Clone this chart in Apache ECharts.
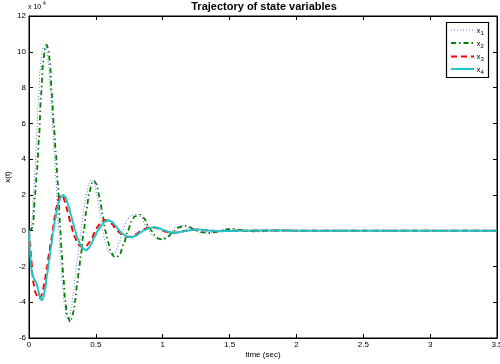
<!DOCTYPE html>
<html>
<head>
<meta charset="utf-8">
<script src="https://cdn.jsdelivr.net/npm/echarts@6/dist/echarts.min.js"></script>
<style>html,body{margin:0;padding:0;background:#fff}#c{width:500px;height:364px}</style>
</head>
<body>
<div id="c"></div>
<script>
// values in units of 10^4
var xTicks = [0, 0.5, 1, 1.5, 2, 2.5, 3, 3.5];
var yTicks = [-6, -4, -2, 0, 2, 4, 6, 8, 10, 12];
var seriesNames = ['x1', 'x2', 'x3', 'x4'];

var t1 = [0,0.015,0.025,0.035,0.045,0.055,0.07,0.082,0.095,0.108,0.12,0.133,0.144,0.16,0.175,0.189,0.2,0.21,0.22,0.235,0.25,0.265,0.28,0.29,0.305,0.318,0.33,0.345,0.36,0.375,0.39,0.41,0.43,0.45,0.47,0.49,0.51,0.53,0.55,0.57,0.595,0.62,0.645,0.675,0.7,0.73,0.76,0.81,0.845,0.87,0.895,0.925,0.955,0.985,1.02,1.05,1.07,1.1,1.145,1.18,1.215,1.24,1.285,1.335,1.38,1.42,1.47,1.51,1.56,1.6,1.68,1.78,1.9,2.0,2.5,3.0,3.5];
var x1 = [0,0.1,0.8,2.2,3.4,5.0,7.2,8.9,9.9,10.35,10.45,10.1,9.4,7.8,6.0,4.4,3.0,1.6,0.2,-1.5,-3.0,-4.2,-4.9,-5.0,-4.8,-4.3,-3.6,-2.6,-1.7,-0.8,0,1.2,2.1,2.65,2.85,2.6,1.9,1.0,0,-0.65,-1.2,-1.4,-1.25,-0.65,0,0.55,0.85,0.95,0.7,0.3,0,-0.3,-0.48,-0.5,-0.35,-0.12,0,0.18,0.3,0.22,0.08,0,-0.1,-0.14,-0.08,0,0.08,0.1,0.04,0,-0.04,0,0.02,0,0,0,0];

var t2 = [0,0.02,0.03,0.045,0.06,0.075,0.09,0.105,0.12,0.132,0.145,0.157,0.17,0.185,0.2,0.215,0.235,0.245,0.258,0.27,0.285,0.307,0.32,0.333,0.344,0.36,0.375,0.387,0.41,0.43,0.45,0.47,0.486,0.505,0.53,0.55,0.57,0.59,0.61,0.635,0.655,0.68,0.71,0.74,0.765,0.79,0.83,0.86,0.89,0.915,0.94,0.97,1.0,1.035,1.065,1.09,1.12,1.165,1.2,1.235,1.26,1.3,1.355,1.4,1.44,1.49,1.53,1.58,1.62,1.7,1.8,1.9,2.0,2.5,3.0,3.5];
var x2 = [0,0.1,0.3,2.0,3.4,5.2,7.6,9.4,10.2,10.4,10.1,9.4,7.7,6.0,4.4,2.7,0,-1.3,-2.7,-3.9,-4.7,-5.1,-4.9,-4.5,-3.95,-3.0,-2.1,-1.4,0,1.2,2.1,2.65,2.8,2.6,1.8,0.9,0,-0.6,-1.15,-1.45,-1.5,-1.3,-0.7,0,0.5,0.8,0.9,0.7,0.3,0,-0.25,-0.45,-0.5,-0.38,-0.15,0,0.18,0.28,0.2,0.07,0,-0.1,-0.13,-0.07,0,0.08,0.1,0.04,0,-0.04,0,0.02,0,0,0,0];

var t3 = [0,0.008,0.015,0.025,0.035,0.05,0.065,0.077,0.09,0.105,0.12,0.135,0.15,0.165,0.178,0.19,0.205,0.22,0.238,0.255,0.27,0.29,0.31,0.33,0.345,0.36,0.38,0.405,0.425,0.445,0.47,0.495,0.515,0.54,0.57,0.595,0.62,0.65,0.675,0.705,0.74,0.77,0.8,0.83,0.86,0.89,0.92,0.955,0.99,1.02,1.06,1.09,1.13,1.17,1.22,1.26,1.31,1.36,1.42,1.5,1.6,1.8,2.0,2.5,3.0,3.5];
var x3 = [0,-0.7,-1.4,-2.4,-3.0,-3.5,-3.75,-3.8,-3.7,-3.3,-2.7,-2.0,-1.3,-0.6,0.05,0.7,1.3,1.75,2.0,1.9,1.6,1.05,0.45,-0.05,-0.4,-0.65,-0.85,-0.95,-0.9,-0.72,-0.4,-0.05,0.25,0.5,0.6,0.55,0.38,0.1,-0.1,-0.27,-0.35,-0.32,-0.2,-0.05,0.08,0.17,0.2,0.15,0.04,-0.05,-0.11,-0.12,-0.07,0,0.05,0.06,0.03,0,-0.03,-0.02,0,0.01,0,0,0,0];

var t4 = [0,0.006,0.015,0.025,0.035,0.045,0.057,0.068,0.08,0.095,0.108,0.12,0.135,0.15,0.165,0.18,0.195,0.21,0.225,0.24,0.257,0.275,0.295,0.315,0.33,0.345,0.365,0.385,0.405,0.426,0.445,0.465,0.49,0.515,0.54,0.565,0.593,0.62,0.645,0.67,0.695,0.73,0.768,0.8,0.83,0.86,0.9,0.94,0.975,1.01,1.05,1.09,1.13,1.18,1.23,1.27,1.32,1.37,1.43,1.5,1.6,1.8,2.0,2.5,3.0,3.5];
var x4 = [0,-1.0,-2.0,-2.5,-2.65,-2.8,-2.95,-3.3,-3.7,-3.9,-3.75,-3.3,-2.5,-1.7,-0.9,-0.1,0.6,1.2,1.65,1.9,2.0,1.85,1.4,0.85,0.4,0,-0.45,-0.8,-1.0,-1.1,-1.0,-0.75,-0.35,0,0.3,0.5,0.58,0.5,0.3,0.05,-0.15,-0.32,-0.37,-0.28,-0.12,0.02,0.15,0.19,0.13,0.02,-0.08,-0.12,-0.08,0,0.05,0.06,0.03,0,-0.03,-0.02,0,0.01,0,0,0,0];

function pairs(t, v) { return t.map(function (tt, i) { return [tt, v[i]]; }); }

var FONT = 'Liberation Sans, Arial, Helvetica, sans-serif';
var chart = echarts.init(document.getElementById('c'), null, {renderer: 'canvas'});

function baseX(pos, showLabel) {
  return {
    type: 'value', position: pos, min: xTicks[0], max: xTicks[xTicks.length - 1],
    interval: 0.5,
    axisLine: {show: true, onZero: false, lineStyle: {color: '#000', width: 1}},
    axisTick: {show: true, inside: true, length: 4, lineStyle: {color: '#000', width: 1}},
    axisLabel: {show: showLabel, color: '#000', fontSize: 8, fontFamily: FONT, margin: 3,
      showMinLabel: true, showMaxLabel: true, hideOverlap: false},
    splitLine: {show: false}
  };
}
function baseY(pos, showLabel) {
  return {
    type: 'value', position: pos, min: yTicks[0], max: yTicks[yTicks.length - 1],
    interval: 2,
    axisLine: {show: true, onZero: false, lineStyle: {color: '#000', width: 1}},
    axisTick: {show: true, inside: true, length: 4, lineStyle: {color: '#000', width: 1}},
    axisLabel: {show: showLabel, color: '#000', fontSize: 8, fontFamily: FONT, margin: 3},
    splitLine: {show: false}
  };
}

var xb = baseX('bottom', true);
xb.name = 'time (sec)'; xb.nameLocation = 'middle'; xb.nameGap = 13; xb.nameMoveOverlap = false;
xb.nameTextStyle = {color: '#000', fontSize: 8, fontFamily: FONT};
var xt = baseX('top', false);
var yl = baseY('left', true);
yl.name = 'x(t)'; yl.nameLocation = 'middle'; yl.nameGap = 17; yl.nameMoveOverlap = false;
yl.nameTextStyle = {color: '#000', fontSize: 8, fontFamily: FONT};
var yr = baseY('right', false);

var colors = ['#6e6eff', '#008000', '#ff0000', '#1cc4c4'];
var styles = [
  {width: 1, type: [1, 2]},
  {width: 1.8, type: [5, 3, 1.5, 3]},
  {width: 2, type: [6, 4]},
  {width: 2, type: 'solid'}
];
var dataSets = [pairs(t1, x1), pairs(t2, x2), pairs(t3, x3), pairs(t4, x4)];

var series = seriesNames.map(function (n, i) {
  return {
    name: n, type: 'line', xAxisIndex: 0, yAxisIndex: 0,
    data: dataSets[i], showSymbol: false, symbol: 'none',
    smooth: 0.25, smoothMonotone: 'x',
    lineStyle: {color: colors[i], width: styles[i].width, type: styles[i].type},
    itemStyle: {color: colors[i]},
    z: 2 + i
  };
});

// legend drawn as graphic (box + sample lines + labels with subscripts)
var LG = {x: 446, y: 22, w: 42, h: 55, lx0: 451, lx1: 474, tx: 476.5, rows: [30, 43, 56.5, 69]};
var legendGraphics = [{
  type: 'rect', z: 100,
  shape: {x: LG.x + 0.5, y: LG.y + 0.5, width: LG.w, height: LG.h},
  style: {fill: '#fff', stroke: '#000', lineWidth: 1.2}
}];
seriesNames.forEach(function (n, i) {
  legendGraphics.push({
    type: 'line', z: 101,
    shape: {x1: LG.lx0, y1: LG.rows[i], x2: LG.lx1, y2: LG.rows[i]},
    style: {stroke: colors[i], lineWidth: styles[i].width, lineDash: styles[i].type === 'solid' ? null : styles[i].type}
  });
  legendGraphics.push({
    type: 'text', z: 101, x: LG.tx, y: LG.rows[i] - 5,
    style: {text: '{b|x}{s|' + n.slice(1) + '}', fontFamily: FONT,
      rich: {b: {fontSize: 8, fontFamily: FONT, fill: '#000'},
             s: {fontSize: 6, fontFamily: FONT, fill: '#000', padding: [5, 0, 0, 0]}}}
  });
});

chart.setOption({
  animation: false,
  backgroundColor: '#fff',
  grid: {left: 29, right: 3, top: 16, bottom: 26, containLabel: false, outerBoundsMode: 'none',
    show: true, borderColor: '#000', borderWidth: 1, backgroundColor: 'transparent'},
  title: {text: 'Trajectory of state variables', left: 264, top: 1, textAlign: 'center', padding: 0,
    textStyle: {fontSize: 11, fontWeight: 'bold', color: '#000', fontFamily: FONT}},
  xAxis: [xb, xt],
  yAxis: [yl, yr],
  graphic: [
    {type: 'text', left: 28, top: 4, style: {text: 'x 10', fontSize: 7, fontFamily: FONT, fill: '#000'}},
    {type: 'text', left: 43, top: 1, style: {text: '4', fontSize: 5, fontFamily: FONT, fill: '#000'}}
  ].concat(legendGraphics),
  series: series
});
</script>
</body>
</html>
